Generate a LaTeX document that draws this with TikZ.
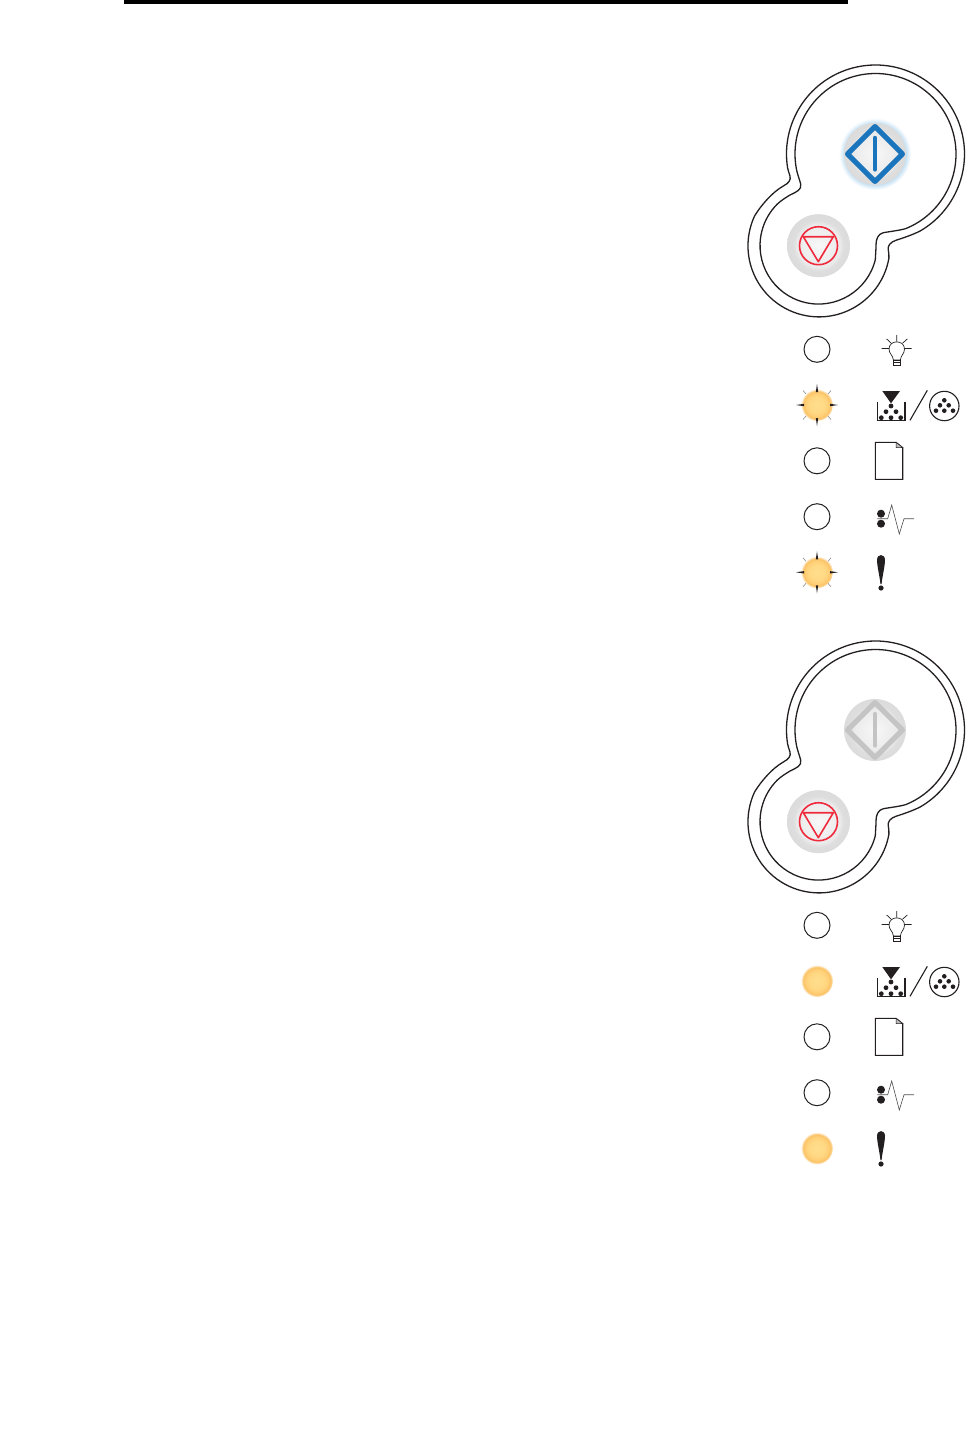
\documentclass[tikz,border=0pt]{standalone}
\definecolor{bluebtn}{HTML}{1B75BC}
\definecolor{greybtn}{HTML}{C4C4C4}
\definecolor{redbtn}{HTML}{EE2A3C}
\definecolor{inkblack}{HTML}{231F20}
\pgfdeclareradialshading{ledglow}{\pgfpoint{0bp}{0bp}}{
 rgb(0bp)=(1,.87,.55);
 rgb(12bp)=(1,.85,.52);
 rgb(18bp)=(1,.81,.46);
 rgb(21.5bp)=(.98,.76,.40);
 rgb(23bp)=(.99,.84,.60);
 rgb(25bp)=(1,1,1);
 rgb(50bp)=(1,1,1)}
\pgfdeclareradialshading{btnshade}{\pgfpoint{0bp}{0bp}}{
 rgb(0bp)=(.97,.97,.97);
 rgb(17bp)=(.92,.92,.92);
 rgb(20bp)=(.87,.87,.87);
 rgb(25bp)=(.86,.86,.86);
 rgb(50bp)=(.86,.86,.86)}
\pgfdeclareradialshading{blueglow}{\pgfpoint{0bp}{0bp}}{
 rgb(0bp)=(.75,.87,.95);
 rgb(21bp)=(.75,.87,.95);
 rgb(25bp)=(1,1,1);
 rgb(50bp)=(1,1,1)}
\tikzset{
 x=0.5pt,y=-0.5pt,
 outline/.style={draw=inkblack,line width=0.65pt,line join=round},
 ledopen/.style={draw=inkblack,line width=0.5pt,fill=white},
 icon/.style={draw=inkblack,line width=0.55pt,line join=miter},
 thinicon/.style={draw=inkblack!80,line width=0.3pt},
 inkdot/.style={fill=inkblack},
 stopmark/.style={draw=redbtn,line width=0.8pt,line join=round},
 startmark/.style={line width=2.5pt,line join=round,line cap=round},
}
% one panel, drawn at its upper position
\newcommand{\panelshape}{
 \draw[outline] (875.5,154) ++(171:89) arc (171:420:89)
   .. controls (912,235) and (903,238) .. (896.7,240)
   .. controls (890,242) and (887.5,246) .. (888.3,250)
   .. controls (888.8,253) and (889,255) .. (888.9,258.2)
   arc (10:205:71)
   .. controls (760,207) and (771,193) .. (783.3,186)
   .. controls (789,183) and (791,180) .. (790,176)
   .. controls (789,173) and (788,170) .. (787.6,167.9);
 \draw[outline] (875.5,154) ++(170:80.5) arc (170:428:80.5)
   .. controls (899,230.5) and (890,231.5) .. (883.3,232.7)
   .. controls (878,234) and (876,239) .. (876,245)
   .. controls (876,250) and (875.5,255) .. (875.3,259.7)
   arc (14:225:58.5)
   .. controls (781,200.5) and (786,197.5) .. (790,195)
   .. controls (796,192) and (802,190) .. (800.7,184)
   .. controls (799,178) and (797,173) .. (796.2,168);
 \shade[shading=btnshade] (818.5,245.7) circle (31.5);
 \draw[stopmark] (818.5,245.7) circle (19);
 \draw[stopmark] (803.3,236.7) -- (833.3,236.7) -- (818.3,261.7) -- cycle;
}
\newcommand{\leds}[1]{
 \draw[ledopen] (817,349.3) circle (13);
 \draw[ledopen] (817,460.8) circle (13);
 \draw[ledopen] (817,516.7) circle (13);
 \foreach \ly in {405,572.3} {
  \shade[shading=ledglow] (817,\ly) circle (16);
  #1
 }
 % bulb
 \draw[icon,line width=0.35pt] (893.4,360) .. controls (893,355) and (889,354) .. (889,349)
   .. controls (889,339.5) and (904.5,339.5) .. (904.5,349)
   .. controls (904.5,354) and (900.8,355) .. (900.4,360) -- cycle;
 \draw[icon,line width=0.35pt] (893.4,360) rectangle (900.4,365.8) (893.4,362.5) -- (900.4,362.5);
 \draw[icon,line width=0.35pt] (896.8,335) -- (896.8,341.5) (881.7,348.5) -- (889,348.5) (904.5,348.5) -- (911.7,348.5)
   (886.7,339) -- (891,343) (907.3,339) -- (902.7,343);
 % toner
 \fill[inkblack] (882.3,391) -- (900,391) -- (891,403.3) -- cycle;
 \draw[icon] (877.7,402.3) -- (877.7,420.3) -- (905,420.3) -- (905,402.3);
 \foreach \dx/\dy in {891/406,886/411.7,896/411.7,881.3/417.7,891/417.7,900.7/417.7}
  \fill[inkdot] (\dx,\dy) circle (2.4);
 \draw[icon] (910,420.3) -- (927.3,390.3);
 \draw[icon] (944.3,406) circle (14.7);
 \foreach \dx/\dy in {944.3/400.3,940/405.3,948.7/405.3,936/410.7,944.3/410.7,953/410.7}
  \fill[inkdot] (\dx,\dy) circle (2.3);
 % paper
 \draw[icon] (896,442.3) -- (875.3,442.3) -- (875.3,479.3) -- (902.7,479.3) -- (902.7,447.7) -- cycle;
 \filldraw[draw=inkblack,line width=0.25pt,fill=black!25] (896,442.3) -- (896,447.7) -- (902.7,447.7) -- cycle;
 % jam
 \fill[inkdot] (881,513.7) circle (4) (881,523.7) circle (4);
 \draw[thinicon] (877.3,518.7) -- (887.7,518.7) -- (891.7,505) -- (899.3,534) -- (904,518.7) -- (914,518.7);
 % attention
 \fill[inkblack] (877,560) .. controls (877,553.5) and (885,553.5) .. (885,560)
   .. controls (885,566) and (882,578) .. (881.6,584) -- (880.4,584)
   .. controls (880,578) and (877,566) .. (877,560) -- cycle;
 \fill[inkblack] (881,588) circle (2.6);
}
\newcommand{\rays}{
 \fill[inkblack] (796,\ly) -- (804,\ly-1.2) -- (804,\ly+1.2) -- cycle;
 \fill[inkblack] (838,\ly) -- (830,\ly-1.2) -- (830,\ly+1.2) -- cycle;
 \fill[inkblack] (817,\ly-21) -- (815.8,\ly-13) -- (818.2,\ly-13) -- cycle;
 \fill[inkblack] (817,\ly+21) -- (815.8,\ly+13) -- (818.2,\ly+13) -- cycle;
 \draw[black!45,line width=0.3pt] (806,\ly-11) -- (803,\ly-14.5)
   (828,\ly-11) -- (831,\ly-14.5) (806,\ly+11) -- (803,\ly+14.5) (828,\ly+11) -- (831,\ly+14.5);
}
\begin{document}
\begin{tikzpicture}
\useasboundingbox (0,0) rectangle (972,1456);
\fill[white] (0,0) rectangle (972,1456);
\fill[black] (124,0) rectangle (848,4);
% upper panel
\panelshape
\shade[shading=blueglow] (875,154) circle (36);
\shade[shading=btnshade] (875,154) circle (31);
\draw[startmark,bluebtn,line cap=butt] (875,126.5) -- (902.5,154) -- (875,181.5) -- (847.5,154) -- cycle;
\draw[startmark,bluebtn,line width=2.2pt] (875,138) -- (875,169.5);
\leds{\rays}
% lower panel
\begin{scope}[shift={(0,576)}]
\panelshape
\shade[shading=btnshade] (875,154) circle (31);
\draw[startmark,greybtn,line cap=butt] (875,126.5) -- (902.5,154) -- (875,181.5) -- (847.5,154) -- cycle;
\draw[startmark,greybtn,line width=2.2pt] (875,138) -- (875,169.5);
\leds{}
\end{scope}
\end{tikzpicture}
\end{document}
